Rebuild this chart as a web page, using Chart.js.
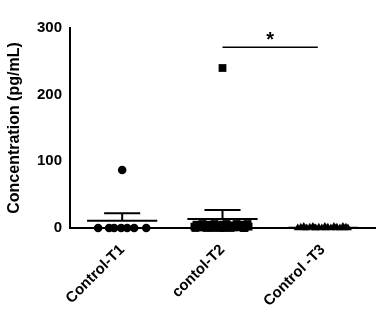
<!DOCTYPE html>
<html>
<head>
<meta charset="utf-8">
<script src="https://cdn.jsdelivr.net/npm/chart.js@4/dist/chart.umd.min.js"></script>
<style>
  html, body { margin: 0; padding: 0; background: #fff; }
  #wrap { width: 384px; height: 321px; position: relative; }
</style>
</head>
<body>
<div id="wrap"><canvas id="c" width="384" height="321"></canvas></div>
<script>
// ===== 数据 =====
const groups = ['Control-T1', 'contol-T2', 'Control -T3'];

// 每组散点：相对组中心的偏移 + 数值
const t1Off = [-0.24, -0.13, -0.08, -0.01, 0.05, 0.12, 0.24, 0.00];
const t1Val = [0, 0, 0, 0, 0, 0, 0, 87];

const t2Off = [-0.28, -0.26, -0.24, -0.22, -0.20, -0.18, -0.16, -0.14, -0.12, -0.10,
               -0.08, -0.06, -0.04, -0.02, 0.00, 0.02, 0.04, 0.06, 0.08, 0.10,
               0.12, 0.14, 0.16, 0.18, 0.20, 0.22, 0.24, 0.26, -0.27, -0.19,
               -0.09, 0.01, 0.11, 0.21, 0.25, 0.00];
const t2Val = [2, 5, 1, 4, 6, 2, 0, 5, 1, 3, 6, 2, 4, 0, 5, 1, 6, 3, 0, 4,
               2, 6, 1, 5, 3, 0, 4, 2, 0, 1, 0, 0, 1, 0, 6, 240];

const t3Off = [-0.25, -0.22, -0.19, -0.16, -0.13, -0.10, -0.07, -0.04, -0.01, 0.02,
               0.05, 0.08, 0.11, 0.14, 0.17, 0.20, 0.23, 0.25, -0.18, -0.08,
               0.03, 0.13, 0.21];
const t3Val = [0, 1, 2, 0, 1, 2, 0, 1, 0, 2, 1, 0, 2, 1, 0, 2, 1, 0, 0, 0, 0, 0, 0];

// 均值 / SEM 上界
const means = [11, 13.5, 0.5];
const semUpper = [22, 27, 1];

// 显著性标记：组2 vs 组3
const sigPair = [2, 3];
const sigLevel = 271;
const sigText = '*';

const yTicks = [0, 100, 200, 300];

// ===== 工具 =====
function pts(center, offs, vals) {
  return offs.map((o, i) => ({ x: center + o, y: vals[i] }));
}

const FONT = "'Liberation Sans', Arial, sans-serif";

// ===== 自定义绘制：均值线、误差棒、显著性 =====
const overlay = {
  id: 'overlay',
  afterDatasetsDraw(chart) {
    const { ctx, scales: { x, y } } = chart;
    ctx.save();
    ctx.strokeStyle = '#000';
    ctx.lineWidth = 2;
    means.forEach((m, i) => {
      const c = i + 1;
      const ym = y.getPixelForValue(m);
      const yu = y.getPixelForValue(semUpper[i]);
      ctx.beginPath();
      ctx.moveTo(x.getPixelForValue(c - 0.35), ym);
      ctx.lineTo(x.getPixelForValue(c + 0.35), ym);
      ctx.moveTo(x.getPixelForValue(c), ym);
      ctx.lineTo(x.getPixelForValue(c), yu);
      ctx.moveTo(x.getPixelForValue(c - 0.18), yu);
      ctx.lineTo(x.getPixelForValue(c + 0.18), yu);
      ctx.stroke();
    });

    // 显著性
    const ys = y.getPixelForValue(sigLevel);
    const x1 = x.getPixelForValue(sigPair[0]);
    const x2 = x.getPixelForValue(sigPair[1] - 0.05);
    ctx.lineWidth = 1.5;
    ctx.beginPath();
    ctx.moveTo(x1, ys);
    ctx.lineTo(x2, ys);
    ctx.stroke();
    ctx.fillStyle = '#000';
    ctx.font = 'bold 20px ' + FONT;
    ctx.textAlign = 'center';
    ctx.textBaseline = 'alphabetic';
    ctx.fillText(sigText, (x1 + x2) / 2, ys - 1);
    ctx.restore();
  }
};

const commonPt = {
  showLine: false,
  backgroundColor: '#000',
  borderColor: '#000',
  borderWidth: 0,
  clip: false
};

new Chart(document.getElementById('c'), {
  type: 'scatter',
  data: {
    datasets: [
      Object.assign({ data: pts(1, t1Off, t1Val), pointStyle: 'circle', pointRadius: 4.3 }, commonPt),
      Object.assign({ data: pts(2, t2Off, t2Val), pointStyle: 'rect', pointRadius: 5.5 }, commonPt),
      Object.assign({ data: pts(3, t3Off, t3Val), pointStyle: 'triangle', pointRadius: 4.6 }, commonPt)
    ]
  },
  options: {
    responsive: false,
    animation: false,
    layout: { padding: { top: 28, right: 9, left: 0, bottom: 0 } },
    plugins: { legend: { display: false }, tooltip: { enabled: false } },
    scales: {
      x: {
        type: 'linear',
        min: 0.48,
        max: 3.52,
        afterBuildTicks(axis) { axis.ticks = [1, 2, 3].map(v => ({ value: v })); },
        afterFit(axis) { axis.height = 93; },
        grid: { display: false, drawTicks: true, tickLength: 4, color: '#000' },
        border: { color: '#000', width: 2 },
        ticks: {
          color: '#000',
          font: { family: FONT, size: 15, weight: 'bold' },
          minRotation: 45,
          maxRotation: 45,
          padding: 9,
          callback: v => groups[v - 1] || ''
        }
      },
      y: {
        min: 0,
        max: 300,
        afterBuildTicks(axis) { axis.ticks = yTicks.map(v => ({ value: v })); },
        afterFit(axis) { axis.width = 70; },
        grid: { display: false, drawTicks: true, tickLength: 6, color: '#000' },
        border: { color: '#000', width: 2 },
        ticks: {
          color: '#000',
          font: { family: FONT, size: 15, weight: 'bold' },
          padding: 2
        },
        title: {
          display: true,
          text: 'Concentration (pg/mL)',
          color: '#000',
          font: { family: FONT, size: 16, weight: 'bold' },
          padding: { top: 5, bottom: 0 }
        }
      }
    }
  },
  plugins: [overlay]
});
</script>
</body>
</html>
